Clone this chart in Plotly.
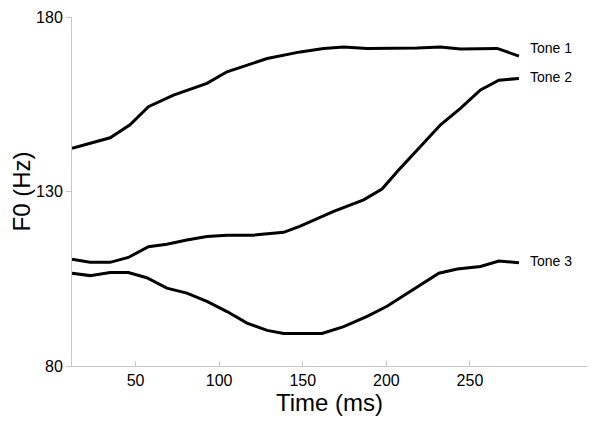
import plotly.graph_objects as go

# Tone 1
t1_time = [12, 34.8, 46.7, 57.7, 72.7, 92.7, 104.7, 116.7, 128.7, 148.5, 162.5, 174.5, 188.5, 218.4, 232.4, 244.3, 266.3, 279.3]
t1_f0 = [142.4, 145.4, 149.1, 154.3, 157.6, 161.0, 164.3, 166.2, 168.1, 170.0, 171.0, 171.4, 171.0, 171.1, 171.4, 170.8, 171.0, 168.8]

# Tone 2
t2_time = [12, 22.8, 34.8, 45.7, 57.7, 68.7, 80.7, 92.7, 104.7, 120.6, 138.6, 148.5, 168.5, 186.4, 197.4, 208.4, 220.4, 232.4, 244.3, 256.3, 267.3, 279.3]
t2_f0 = [110.6, 109.7, 109.7, 111.1, 114.2, 114.9, 116.1, 117.1, 117.5, 117.5, 118.3, 120.1, 124.3, 127.6, 130.7, 136.7, 142.9, 149.1, 153.8, 159.1, 161.9, 162.4]

# Tone 3
t3_time = [12, 22.8, 34.8, 45.7, 56.7, 68.7, 80.7, 92.7, 104.7, 116.7, 128.7, 138.6, 148.5, 161.5, 174.5, 188.5, 200.4, 214.4, 231.4, 242.4, 256.3, 267.3, 279.3]
t3_f0 = [106.6, 105.9, 106.8, 106.8, 105.3, 102.3, 100.9, 98.5, 95.6, 92.3, 90.2, 89.3, 89.3, 89.3, 91.3, 94.2, 97.1, 101.3, 106.6, 107.8, 108.5, 110.1, 109.6]

tone_names = ["Tone 1", "Tone 2", "Tone 3"]
label_time = [285, 285, 285]
label_f0 = [171.0, 162.8, 110.0]

fig = go.Figure()
for name, t, f in [("Tone 1", t1_time, t1_f0), ("Tone 2", t2_time, t2_f0), ("Tone 3", t3_time, t3_f0)]:
    fig.add_trace(go.Scatter(x=t, y=f, mode="lines", name=name,
                             line=dict(color="black", width=3)))

for name, lx, ly in zip(tone_names, label_time, label_f0):
    fig.add_annotation(x=lx, y=ly, text=name, showarrow=False, xanchor="left",
                       font=dict(size=14, color="black"))

# page body adds an 8px margin, so the figure is 16px smaller than the window
fig.update_layout(
    width=584, height=408,
    margin=dict(l=64, r=5, t=9, b=50),
    plot_bgcolor="white", paper_bgcolor="white",
    showlegend=False,
    font=dict(family="Liberation Sans, Arial, sans-serif", color="black"),
    xaxis=dict(
        range=[12, 320], tickvals=[50, 100, 150, 200, 250],
        showline=True, linecolor="#c8c8c8", linewidth=1,
        ticks="inside", ticklen=5, tickcolor="#c8c8c8",
        showgrid=False, zeroline=False, tickfont=dict(size=16),
        automargin=False,
        title=dict(text="Time (ms)", font=dict(size=24), standoff=0),
    ),
    yaxis=dict(
        range=[80, 180], tickvals=[80, 130, 180],
        showline=True, linecolor="#c8c8c8", linewidth=1,
        ticks="outside", ticklen=5, tickcolor="#c8c8c8",
        showgrid=False, zeroline=False, tickfont=dict(size=16),
        automargin=False,
        title=dict(text="F0 (Hz)", font=dict(size=24), standoff=6),
    ),
)

fig.write_html("out.html")
